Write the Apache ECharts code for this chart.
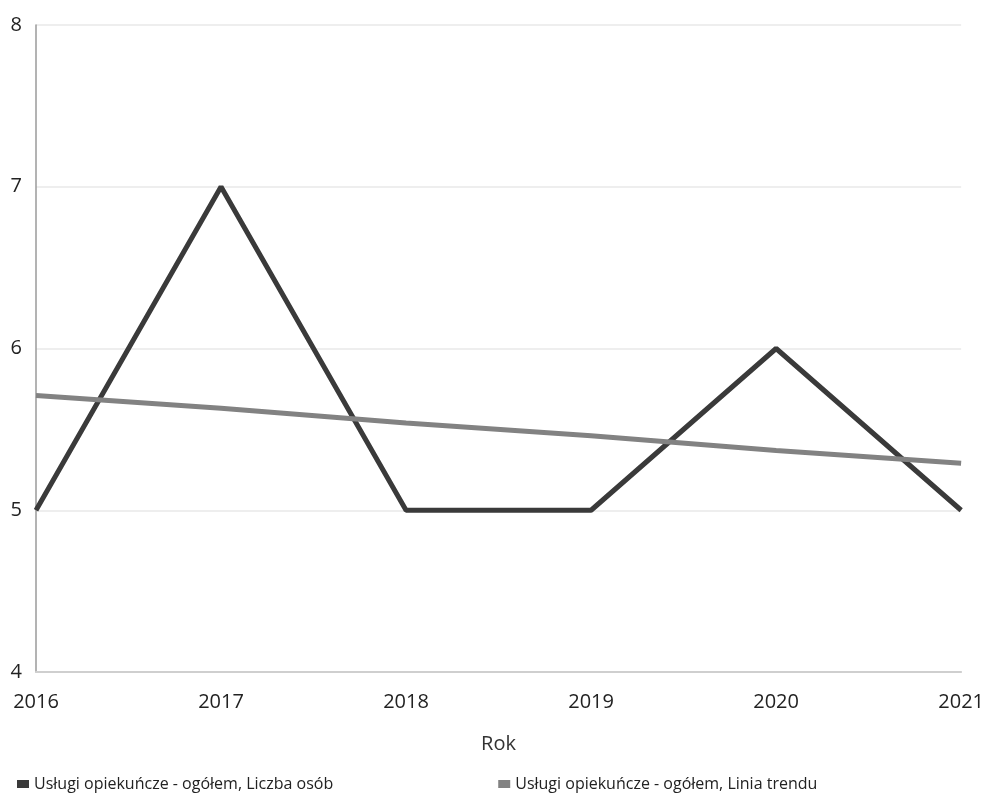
<!DOCTYPE html>
<html><head><meta charset="utf-8">
<script src="https://cdn.jsdelivr.net/npm/echarts@6/dist/echarts.min.js"></script>
<style>html,body{margin:0;padding:0;background:#fff}#c{width:987px;height:807px}</style>
</head><body><div id="c"></div>
<script>
const years = ['2016','2017','2018','2019','2020','2021'];
const liczbaOsob = [5, 7, 5, 5, 6, 5];
const liniaTrendu = [5.71, 5.63, 5.54, 5.46, 5.37, 5.29];
const seriesNames = ['Usługi opiekuńcze - ogółem, Liczba osób', 'Usługi opiekuńcze - ogółem, Linia trendu'];
const chart = echarts.init(document.getElementById('c'));
const font = 'Open Sans';
chart.setOption({
  animation: false,
  textStyle: {fontFamily: font},
  grid: {left: 36, right: 25, top: 25, bottom: 135},
  legend: {
    bottom: 10, left: 12, itemGap: 165, itemWidth: 12, itemHeight: 8,
    icon: 'rect',
    textStyle: {fontFamily: font, fontSize: 16, color: '#222'},
    data: seriesNames
  },
  xAxis: {
    type: 'category', data: years, boundaryGap: false,
    name: 'Rok', nameLocation: 'middle', nameGap: 62,
    nameTextStyle: {fontFamily: font, fontSize: 20, color: '#333'},
    axisLine: {lineStyle: {color: '#cfcfcf', width: 2}},
    axisTick: {show: false},
    axisLabel: {fontFamily: font, fontSize: 20, color: '#222', margin: 20}
  },
  yAxis: {
    type: 'value', min: 4, max: 8, interval: 1,
    axisLine: {show: true, lineStyle: {color: '#9a9a9a', width: 1.5}},
    axisTick: {show: false},
    axisLabel: {fontFamily: font, fontSize: 20, color: '#222', margin: 14},
    splitLine: {lineStyle: {color: '#e8e8e8', width: 1.5}}
  },
  series: [
    {name: seriesNames[0], type: 'line', data: liczbaOsob, symbol: 'none',
     lineStyle: {color: '#3a3a3a', width: 5}, itemStyle: {color: '#3a3a3a'}, z: 3},
    {name: seriesNames[1], type: 'line', data: liniaTrendu, symbol: 'none',
     lineStyle: {color: '#828282', width: 5}, itemStyle: {color: '#828282'}, z: 4}
  ]
});
</script></body></html>
